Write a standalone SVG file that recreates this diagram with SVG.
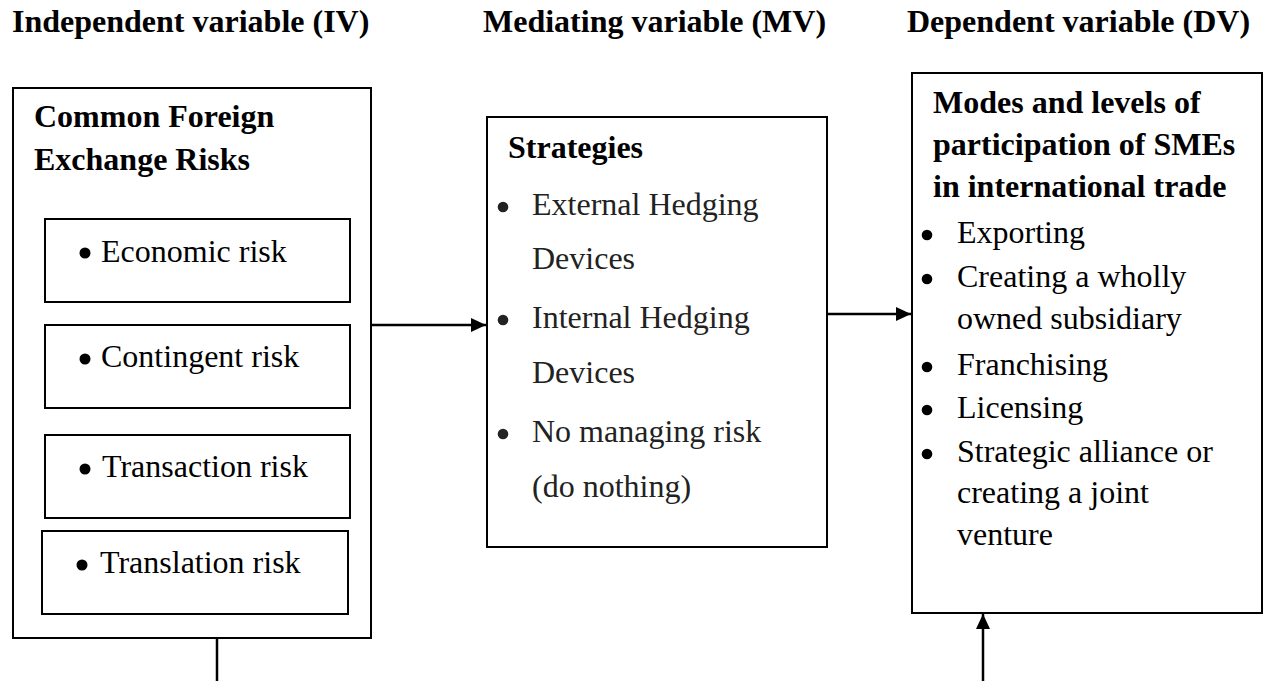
<svg xmlns="http://www.w3.org/2000/svg" width="1265" height="681" viewBox="0 0 1265 681">
<style>
text{font-family:"Liberation Serif","Times New Roman",serif;font-size:32px;fill:#000}
.b{font-weight:bold}
.g{fill:#222}
.box{fill:#fff;stroke:#000;stroke-width:2}
.ln{stroke:#000;stroke-width:2.5;fill:none}
.dot{fill:#000}
.dg{fill:#222}
</style>
<defs>
<marker id="ah" markerWidth="16" markerHeight="14" refX="15" refY="7" orient="auto" markerUnits="userSpaceOnUse">
<path d="M0,0 L15,7 L0,14 Z" fill="#000"/>
</marker>
</defs>
<g id="headers">
<text class="b" x="12" y="32">Independent variable (IV)</text>
<text class="b" x="483" y="32">Mediating variable (MV)</text>
<text class="b" x="907" y="32">Dependent variable (DV)</text>
</g>
<g id="connectors">
<line class="ln" x1="371" y1="325" x2="486" y2="325" marker-end="url(#ah)"/>
<line class="ln" x1="827" y1="314" x2="911" y2="314" marker-end="url(#ah)"/>
<line class="ln" x1="217" y1="638" x2="217" y2="681"/>
<line class="ln" x1="983" y1="681" x2="983" y2="614" marker-end="url(#ah)"/>
</g>
<g id="iv">
<rect class="box" x="13" y="88" width="358" height="550"/>
<text class="b" x="34" y="127">Common Foreign</text>
<text class="b" x="34" y="170">Exchange Risks</text>
<g id="economic">
<rect class="box" x="45" y="219" width="305" height="83"/>
<circle class="dot" cx="85" cy="253" r="5.5"/>
<text x="101" y="262">Economic risk</text>
</g>
<g id="contingent">
<rect class="box" x="45" y="325" width="305" height="83"/>
<circle class="dot" cx="85" cy="359" r="5.5"/>
<text x="101" y="367">Contingent risk</text>
</g>
<g id="transaction">
<rect class="box" x="45" y="435" width="305" height="83"/>
<circle class="dot" cx="85" cy="469" r="5.5"/>
<text x="102" y="477">Transaction risk</text>
</g>
<g id="translation">
<rect class="box" x="42" y="531" width="306" height="83"/>
<circle class="dot" cx="82" cy="565" r="5.5"/>
<text x="100" y="573">Translation risk</text>
</g>
</g>
<g id="mv">
<rect class="box" x="487" y="117" width="340" height="430"/>
<text class="b" x="508" y="158">Strategies</text>
<circle class="dg" cx="503" cy="207" r="5.3"/>
<text class="g" x="532" y="215">External Hedging</text>
<text class="g" x="532" y="269">Devices</text>
<circle class="dg" cx="503" cy="320" r="5.3"/>
<text class="g" x="532" y="328">Internal Hedging</text>
<text class="g" x="532" y="383">Devices</text>
<circle class="dg" cx="503" cy="434" r="5.3"/>
<text class="g" x="532" y="442">No managing risk</text>
<text class="g" x="532" y="497">(do nothing)</text>
</g>
<g id="dv">
<rect class="box" x="912" y="73" width="350" height="540"/>
<text class="b" x="933" y="113">Modes and levels of</text>
<text class="b" x="933" y="155">participation of SMEs</text>
<text class="b" x="933" y="197">in international trade</text>
<circle class="dot" cx="927" cy="235" r="5.3"/>
<text x="957" y="243">Exporting</text>
<circle class="dot" cx="927" cy="279" r="5.3"/>
<text x="957" y="287">Creating a wholly</text>
<text x="957" y="329">owned subsidiary</text>
<circle class="dot" cx="927" cy="367" r="5.3"/>
<text x="957" y="375">Franchising</text>
<circle class="dot" cx="927" cy="410" r="5.3"/>
<text x="957" y="418">Licensing</text>
<circle class="dot" cx="927" cy="454" r="5.3"/>
<text x="957" y="462">Strategic alliance or</text>
<text x="957" y="503">creating a joint</text>
<text x="957" y="545">venture</text>
</g>
</svg>
